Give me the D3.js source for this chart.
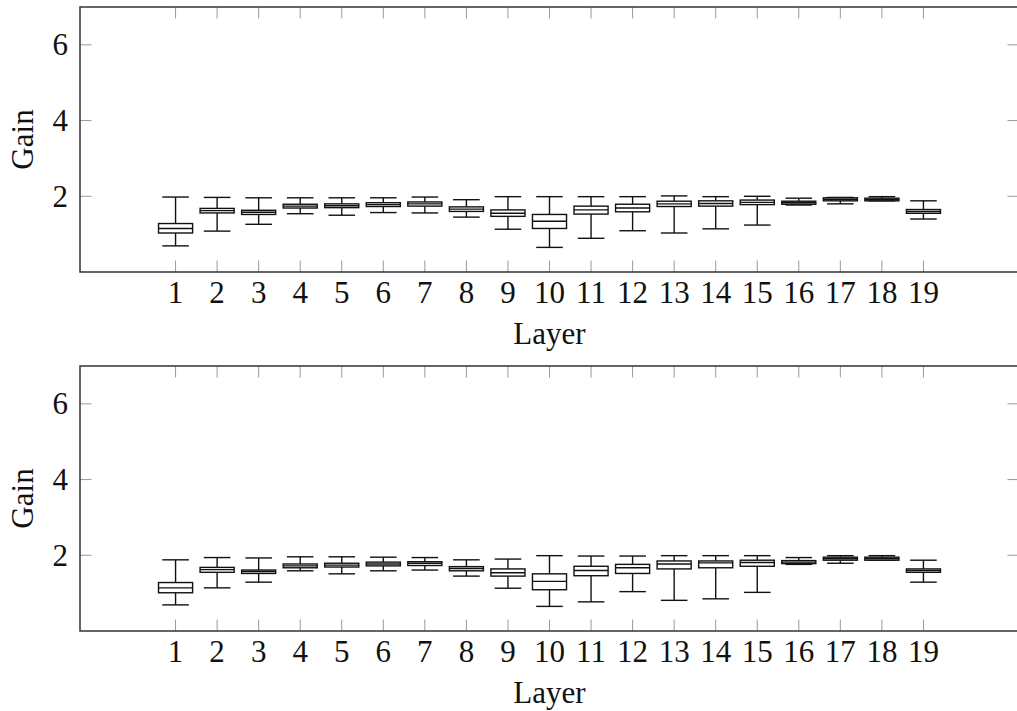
<!DOCTYPE html>
<html>
<head>
<meta charset="utf-8">
<script src="https://cdn.jsdelivr.net/npm/d3@7"></script>
<style>
  body { margin: 0; background: white; overflow: hidden; }
  text { font-family: "Liberation Serif", "DejaVu Serif", serif; fill: #111; }
</style>
</head>
<body>
<script>
// 1. DATA -------------------------------------------------------------------------

const layers = d3.range(1, 20);
const yTicks = [2, 4, 6];

// top panel
const topLow  = [0.69, 1.08, 1.26, 1.54, 1.50, 1.57, 1.56, 1.45, 1.13, 0.65, 0.89, 1.09, 1.03, 1.14, 1.24, 1.77, 1.80, 1.88, 1.40];
const topQ1   = [1.03, 1.56, 1.52, 1.69, 1.70, 1.73, 1.74, 1.60, 1.47, 1.15, 1.53, 1.59, 1.73, 1.74, 1.78, 1.79, 1.88, 1.88, 1.55];
const topMed  = [1.15, 1.62, 1.58, 1.74, 1.75, 1.78, 1.80, 1.66, 1.55, 1.34, 1.64, 1.69, 1.80, 1.81, 1.84, 1.83, 1.92, 1.91, 1.60];
const topQ3   = [1.28, 1.68, 1.63, 1.79, 1.80, 1.83, 1.85, 1.72, 1.64, 1.52, 1.74, 1.79, 1.87, 1.88, 1.90, 1.87, 1.96, 1.95, 1.65];
const topHigh = [1.98, 1.97, 1.96, 1.96, 1.96, 1.96, 1.98, 1.91, 1.99, 1.99, 1.99, 1.99, 2.01, 1.99, 2.00, 1.95, 1.97, 1.99, 1.88];

// bottom panel
const botLow  = [0.69, 1.14, 1.29, 1.59, 1.51, 1.59, 1.61, 1.45, 1.13, 0.65, 0.77, 1.04, 0.81, 0.85, 1.02, 1.76, 1.79, 1.87, 1.29];
const botQ1   = [1.01, 1.55, 1.52, 1.67, 1.69, 1.72, 1.73, 1.59, 1.45, 1.09, 1.46, 1.52, 1.64, 1.67, 1.71, 1.78, 1.87, 1.87, 1.55];
const botMed  = [1.14, 1.62, 1.57, 1.72, 1.74, 1.77, 1.79, 1.65, 1.54, 1.31, 1.60, 1.67, 1.77, 1.80, 1.81, 1.82, 1.91, 1.91, 1.60];
const botQ3   = [1.28, 1.68, 1.61, 1.77, 1.79, 1.82, 1.83, 1.70, 1.64, 1.51, 1.71, 1.76, 1.85, 1.85, 1.87, 1.86, 1.95, 1.95, 1.64];
const botHigh = [1.88, 1.94, 1.93, 1.96, 1.96, 1.95, 1.94, 1.88, 1.90, 1.99, 1.98, 1.98, 1.99, 1.99, 1.99, 1.94, 1.99, 1.99, 1.87];

const width = 1017,
      height = 711,
      left = 80,
      right = 1019,      // right spine sits just off the page, so it is not drawn
      boxWidth = 0.82,   // in x units
      capWidth = 0.64,
      tickLen = 11.5,
      fontSize = 31;

const svg = d3.select("body")
  .append("svg")
  .attr("width", width)
  .attr("height", height);

svg.append("rect").attr("width", width).attr("height", height).attr("fill", "white");

const x = d3.scaleLinear().domain([-1.3, 21.3]).range([left, right]);

// 2. ONE PANEL -------------------------------------------------------------------------

function drawPanel(top, bottom, low, q1, med, q3, high) {
  const y = d3.scaleLinear().domain([0, 7]).range([bottom, top]);
  const g = svg.append("g");

  const rows = layers.map((l, i) => ({ l, low: low[i], q1: q1[i], med: med[i], q3: q3[i], high: high[i] }));

  // ticks (inside, on all four sides)
  const ticks = g.append("g").attr("stroke", "#9a9a9a").attr("stroke-width", 1);
  layers.forEach(l => {
    ticks.append("line").attr("x1", x(l)).attr("x2", x(l)).attr("y1", bottom).attr("y2", bottom - tickLen);
    ticks.append("line").attr("x1", x(l)).attr("x2", x(l)).attr("y1", top).attr("y2", top + tickLen);
  });
  yTicks.forEach(t => {
    ticks.append("line").attr("x1", left).attr("x2", left + tickLen).attr("y1", y(t)).attr("y2", y(t));
    ticks.append("line").attr("x1", right).attr("x2", right - tickLen).attr("y1", y(t)).attr("y2", y(t));
  });

  // boxes
  const box = g.selectAll("g.box")
    .data(rows)
    .enter()
    .append("g")
    .attr("class", "box")
    .attr("stroke", "#111")
    .attr("stroke-width", 1.4);

  box.append("line")
    .attr("x1", d => x(d.l)).attr("x2", d => x(d.l))
    .attr("y1", d => y(d.high)).attr("y2", d => y(d.q3));
  box.append("line")
    .attr("x1", d => x(d.l)).attr("x2", d => x(d.l))
    .attr("y1", d => y(d.q1)).attr("y2", d => y(d.low));
  box.append("line")
    .attr("x1", d => x(d.l - capWidth / 2)).attr("x2", d => x(d.l + capWidth / 2))
    .attr("y1", d => y(d.high)).attr("y2", d => y(d.high));
  box.append("line")
    .attr("x1", d => x(d.l - capWidth / 2)).attr("x2", d => x(d.l + capWidth / 2))
    .attr("y1", d => y(d.low)).attr("y2", d => y(d.low));
  box.append("rect")
    .attr("x", d => x(d.l - boxWidth / 2))
    .attr("width", x(boxWidth) - x(0))
    .attr("y", d => y(d.q3))
    .attr("height", d => y(d.q1) - y(d.q3))
    .attr("fill", "white");
  box.append("line")
    .attr("x1", d => x(d.l - boxWidth / 2)).attr("x2", d => x(d.l + boxWidth / 2))
    .attr("y1", d => y(d.med)).attr("y2", d => y(d.med));

  // frame: top, left and bottom spines
  g.append("path")
    .attr("d", `M${width + 2},${top}H${left}V${bottom}H${width + 2}`)
    .attr("fill", "none")
    .attr("stroke", "#333")
    .attr("stroke-width", 1.5);

  // labels
  g.selectAll("text.xt")
    .data(layers)
    .enter()
    .append("text")
    .attr("class", "xt")
    .attr("x", d => x(d))
    .attr("y", bottom + 30.5)
    .attr("text-anchor", "middle")
    .attr("font-size", fontSize)
    .text(d => d);

  g.selectAll("text.yt")
    .data(yTicks)
    .enter()
    .append("text")
    .attr("class", "yt")
    .attr("x", left - 12)
    .attr("y", d => y(d))
    .attr("dy", "0.34em")
    .attr("text-anchor", "end")
    .attr("font-size", fontSize)
    .text(d => d);

  g.append("text")
    .attr("x", x(10))
    .attr("y", bottom + 72)
    .attr("text-anchor", "middle")
    .attr("font-size", fontSize)
    .text("Layer");

  g.append("text")
    .attr("transform", `translate(33,${(top + bottom) / 2}) rotate(-90)`)
    .attr("text-anchor", "middle")
    .attr("font-size", fontSize)
    .text("Gain");
}

// 3. DRAW BOTH -------------------------------------------------------------------------

drawPanel(7, 272, topLow, topQ1, topMed, topQ3, topHigh);
drawPanel(366, 631, botLow, botQ1, botMed, botQ3, botHigh);
</script>
</body>
</html>
